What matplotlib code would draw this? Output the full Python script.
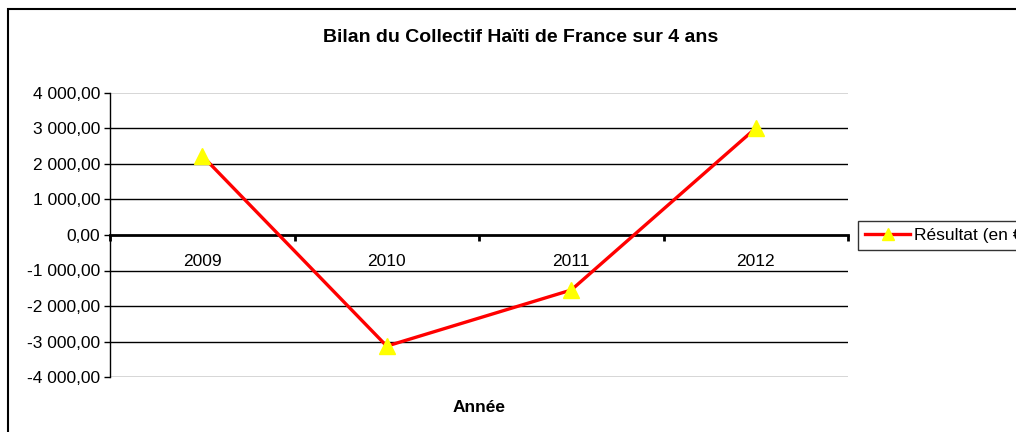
import matplotlib
matplotlib.use("Agg")
import matplotlib.pyplot as plt
from matplotlib.patches import Rectangle
from matplotlib.ticker import FuncFormatter

years = ["2009", "2010", "2011", "2012"]
resultat = [2230, -3130, -1550, 3010]
yticks = [-4000, -3000, -2000, -1000, 0, 1000, 2000, 3000, 4000]
title = "Bilan du Collectif Haïti de France sur 4 ans"
xlabel = "Année"
series_label = "Résultat (en €)"

plt.rcParams['font.family'] = ['Liberation Sans', 'DejaVu Sans']

W, H = 1016, 432
fig = plt.figure(figsize=(W / 100, H / 100), dpi=100)
fig.patch.set_facecolor("white")

# outer chart frame
fig.add_artist(Rectangle((8 / W, -0.1), 1.2, (H - 9) / H + 0.1, transform=fig.transFigure,
                         fill=False, edgecolor="black", linewidth=1.5))

ax = fig.add_axes([110 / W, (H - 377) / H, (848 - 110) / W, (377 - 93) / H])
x = list(range(len(years)))
ax.set_xlim(-0.5, len(years) - 0.5)
ax.set_ylim(-4000, 4000)

for v in yticks:
    if v in (-4000, 4000):
        ax.axhline(v, color="#d0d0d0", linewidth=1.2, zorder=1)
    elif v != 0:
        ax.axhline(v, color="black", linewidth=1.0, zorder=1)

ax.plot(x, resultat, color="#ff0000", linewidth=2.4, marker="^", markersize=12,
        markerfacecolor="#ffff00", markeredgecolor="#ffff00", label=series_label, zorder=4)

for s in ["top", "right"]:
    ax.spines[s].set_visible(False)
ax.spines["left"].set_color("black")
ax.spines["left"].set_linewidth(1.0)
ax.spines["bottom"].set_position(("data", 0))
ax.spines["bottom"].set_linewidth(2.0)
ax.spines["bottom"].set_zorder(3)

ax.set_yticks(yticks)
ax.yaxis.set_major_formatter(FuncFormatter(
    lambda v, p: f"{v:,.2f}".replace(",", " ").replace(".", ",")))
ax.tick_params(axis="y", length=4, width=1, labelsize=12.5, pad=3)

bounds = [i - 0.5 for i in range(len(years) + 1)]
ax.set_xticks(bounds)
ax.set_xticklabels([""] * len(bounds))
ax.tick_params(axis="x", which="major", length=4, width=2, direction="out")
ax.set_xticks(x, minor=True)
ax.set_xticklabels(years, minor=True)
ax.tick_params(axis="x", which="minor", length=0, labelsize=12.5, pad=14)

fig.text(521 / W, (H - 37) / H, title, ha="center", va="center", fontsize=14, fontweight="bold")
fig.text(479 / W, (H - 407) / H, xlabel, ha="center", va="center", fontsize=12.5, fontweight="bold")

leg = fig.legend(loc="upper left", bbox_to_anchor=(858 / W, (H - 221) / H), frameon=True,
                 fancybox=False, edgecolor="black", fontsize=12.5, handlelength=2.6,
                 borderpad=0.4, handletextpad=0.2, borderaxespad=0, markerscale=0.75)
leg.get_frame().set_linewidth(1.0)

fig.savefig("out.png", dpi=100)
